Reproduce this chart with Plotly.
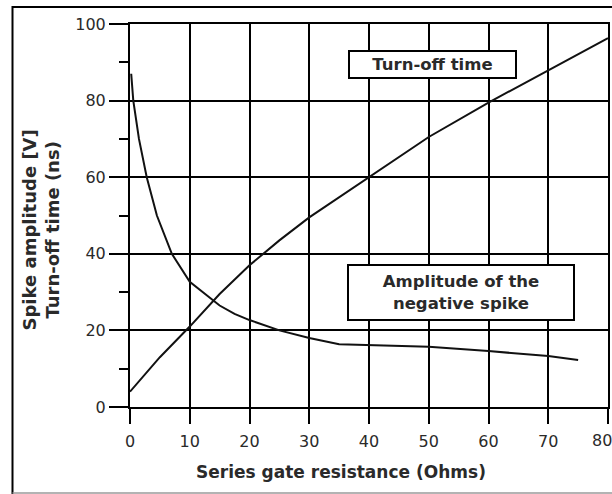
import plotly.graph_objects as go

# Data
turnoff_x = [0, 5, 10, 15, 20, 25, 30, 40, 50, 60, 70, 80]
turnoff_y = [4, 13, 21, 29.5, 37, 43.5, 49.5, 60, 70.5, 79.5, 88, 96.3]

spike_x = [0.2, 0.55, 1.5, 2.8, 4.5, 7, 10, 12.5, 15, 17.5, 20, 25, 30, 35, 40, 50, 60, 70, 75]
spike_y = [87, 80, 70, 60, 50, 40, 32.7, 29.5, 26.5, 24.3, 22.7, 20, 18, 16.4, 16.2, 15.7, 14.6, 13.3, 12.3]

x_ticks = [0, 10, 20, 30, 40, 50, 60, 70, 80]
x_ticklabels = ["0", "10", "20", "30", "40", "50", "60", "70", ""]
last_x_label = "80"
y_ticks = [0, 20, 40, 60, 80, 100]

FONT = "DejaVu Sans"
TXT = "#2a2a2a"

W, H = 612, 494
L, R, T, B = 130, 608, 24, 407

fig = go.Figure()
fig.add_trace(go.Scatter(x=turnoff_x, y=turnoff_y, mode="lines",
                         line=dict(color="#111111", width=2), showlegend=False))
fig.add_trace(go.Scatter(x=spike_x, y=spike_y, mode="lines",
                         line=dict(color="#111111", width=2), showlegend=False))


def px(xs):
    return (xs - L) / (R - L)


def py(ys):
    return (B - ys) / (B - T)


fig.update_layout(
    width=W, height=H,
    margin=dict(l=L, r=W - R, t=T, b=H - B, autoexpand=False),
    paper_bgcolor="white", plot_bgcolor="white",
    font=dict(family=FONT, color=TXT, size=16),
    xaxis=dict(range=[0, 80], tickvals=x_ticks, ticktext=x_ticklabels,
               showgrid=True, gridcolor="black", gridwidth=2,
               zeroline=False, showline=True, linecolor="black", linewidth=2, mirror=True,
               ticks="outside", ticklen=15, tickwidth=2, tickcolor="black",
               tickfont=dict(family=FONT, size=16, color=TXT), ticklabelstandoff=4),
    yaxis=dict(range=[0, 100], tickvals=y_ticks, ticktext=[str(v) for v in y_ticks],
               showgrid=True, gridcolor="black", gridwidth=2,
               zeroline=False, showline=True, linecolor="black", linewidth=2, mirror=True,
               ticks="outside", ticklen=19, tickwidth=2, tickcolor="black",
               minor=dict(ticks="outside", ticklen=9, tickwidth=2, tickcolor="black",
                          dtick=10, tick0=0, showgrid=False),
               tickfont=dict(family=FONT, size=16, color=TXT), ticklabelstandoff=0),
)

# last x tick label, nudged left so it stays inside the page
fig.add_annotation(xref="x", yref="paper", x=x_ticks[-1], y=py(440),
                   text=last_x_label, showarrow=False, xanchor="center", yanchor="middle",
                   xshift=-6, font=dict(family=FONT, size=16, color=TXT))

# Axis titles
fig.add_annotation(xref="paper", yref="paper", x=px(341), y=py(472),
                   text="<b>Series gate resistance (Ohms)</b>", showarrow=False,
                   xanchor="center", yanchor="middle",
                   font=dict(family=FONT, size=17, color=TXT))
fig.add_annotation(xref="paper", yref="paper", x=px(40.5), y=py(230),
                   text="<b>Spike amplitude [V]<br>Turn-off time (ns)</b>", showarrow=False,
                   textangle=-90, xanchor="center", yanchor="middle",
                   font=dict(family=FONT, size=18, color=TXT))

# Curve labels in boxes
fig.add_annotation(xref="paper", yref="paper", x=px(432.5), y=py(64.5),
                   text="<b>Turn-off time</b>", showarrow=False,
                   xanchor="center", yanchor="middle",
                   width=165, height=25, borderpad=0,
                   bordercolor="black", borderwidth=2, bgcolor="white",
                   font=dict(family=FONT, size=16.5, color=TXT))
fig.add_annotation(xref="paper", yref="paper", x=px(461), y=py(292.5),
                   text="<b>Amplitude of the<br>negative spike</b>", showarrow=False,
                   xanchor="center", yanchor="middle",
                   width=224, height=53, borderpad=0,
                   bordercolor="black", borderwidth=2, bgcolor="white",
                   font=dict(family=FONT, size=16.5, color=TXT))

# Outer frame: black left/top, light grey bottom
fig.add_shape(type="rect", xref="paper", yref="paper",
              x0=px(12.5), x1=px(640), y0=py(520), y1=py(7),
              line=dict(color="black", width=2), fillcolor="rgba(0,0,0,0)", layer="above")
fig.add_shape(type="rect", xref="paper", yref="paper",
              x0=px(12.5), x1=px(640), y0=py(493), y1=py(493),
              line=dict(color="#9a9a9a", width=1.5), fillcolor="rgba(0,0,0,0)", layer="above")

page_css = ("document.documentElement.style.overflow='hidden';"
            "document.body.style.margin='0';document.body.style.overflow='hidden';")
fig.write_html("out.html", post_script=page_css, config={"displayModeBar": False})
